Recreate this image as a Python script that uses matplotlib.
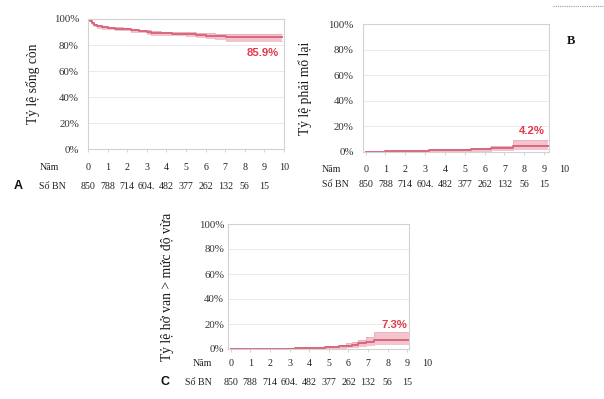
"""
Ba biểu đồ Kaplan-Meier: sống còn, mổ lại, hở van > mức độ vừa
"""

import matplotlib
matplotlib.use('Agg')
import matplotlib.pyplot as plt
import matplotlib.transforms as mtransforms

# A: tỷ lệ sống còn (%)
t_a = [0, 0.1, 0.2, 0.3, 0.45, 0.7, 1.0, 1.4, 1.8, 2.2, 2.6, 3.0, 3.2, 3.7, 4.3,
       5.0, 5.5, 6.0, 6.5, 7.05, 9.9]
s_a = [100, 98.5, 97, 95.5, 94.3, 93.6, 93.1, 92.6, 92.2, 91.5, 90.8, 90.0, 89.2,
       89.0, 88.8, 88.6, 87.9, 87.3, 86.8, 85.9, 85.9]
lo_a = [100, 98.1, 96.4, 94.7, 93.4, 92.7, 92.1, 91.6, 91.2, 90.4, 89.7, 88.8,
        87.9, 87.7, 87.4, 87.1, 86.3, 85.5, 84.8, 83.3, 83.3]
hi_a = [100, 98.9, 97.6, 96.3, 95.2, 94.5, 94.1, 93.6, 93.2, 92.6, 91.9, 91.2,
        90.5, 90.3, 90.2, 90.1, 89.5, 89.1, 88.8, 88.5, 88.5]

# B: tỷ lệ phải mổ lại (%)
t_b = [0, 1.0, 1.6, 2.0, 2.6, 3.2, 3.5, 4.2, 5.3, 6.3, 7.45, 9.2]
s_b = [0, 0.2, 0.4, 0.6, 0.8, 1.2, 1.4, 1.5, 1.9, 2.8, 4.2, 4.2]
lo_b = [0, 0, 0.1, 0.2, 0.3, 0.5, 0.6, 0.7, 0.9, 1.5, 1.8, 1.8]
hi_b = [0, 0.5, 0.8, 1.1, 1.4, 2.0, 2.3, 2.4, 2.9, 4.5, 9.5, 9.5]

# C: tỷ lệ hở van > mức độ vừa (%)
t_c = [0, 1.5, 2.0, 2.8, 3.3, 3.6, 4.2, 4.8, 5.1, 5.5, 5.9, 6.2, 6.5, 6.9, 7.3, 9.1]
s_c = [0, 0.1, 0.2, 0.4, 0.6, 0.9, 1.1, 1.3, 1.7, 2.2, 2.8, 3.5, 4.5, 5.6, 7.3, 7.3]
lo_c = [0, 0, 0, 0.1, 0.2, 0.3, 0.4, 0.5, 0.7, 1.0, 1.4, 1.8, 2.4, 3.0, 3.9, 3.9]
hi_c = [0, 0.3, 0.5, 0.8, 1.1, 1.6, 1.9, 2.2, 2.8, 3.6, 4.5, 5.6, 7.2, 9.8, 13.8, 13.8]

# bảng số bệnh nhân
years = list(range(11))
n_patients = ['850', '788', '714', '604.', '482', '377', '262', '132', '56', '15']

y_ticks = [0, 20, 40, 60, 80, 100]
y_ticklabels = ['0%', '20%', '40%', '60%', '80%', '100%']

SERIF = ['Liberation Serif', 'DejaVu Serif']
SANS = ['Liberation Sans', 'DejaVu Sans']
LINE = '#d9677d'
BAND = '#f3c4ce'
RED = '#e23a4d'
W, H = 604, 399


def fx(px):
    return px / W


def fy(py):
    return 1 - py / H


fig = plt.figure(figsize=(6.04, 3.99), dpi=100)
fig.patch.set_facecolor('white')


def rect_center_y(rect):
    return (1 - (rect[1] + rect[3] / 2)) * H


def make_panel(rect, t, s, lo, hi, xlim, ylabel, pad, final_label, label_xy,
               ylabel_x, row_y):
    ax = fig.add_axes(rect)
    ax.fill_between(t, lo, hi, step='post', color=BAND, lw=0)
    ax.step(t, lo, where='post', color='#eba9b7', lw=0.5)
    ax.step(t, hi, where='post', color='#eba9b7', lw=0.5)
    ax.step(t, s, where='post', color=LINE, lw=1.4)
    ax.set_xlim(*xlim)
    ax.set_ylim(0, 100)
    ax.set_yticks(y_ticks)
    ax.set_yticklabels(y_ticklabels, family=SERIF, fontsize=7.8, color='#333333')
    ax.set_xticks([y for y in years if y <= xlim[1]])
    ax.set_xticklabels([])
    ax.tick_params(axis='y', length=0, pad=pad)
    ax.tick_params(axis='x', length=2, width=0.6, color='#cccccc', direction='out')
    ax.grid(axis='y', color='#e6e6e6', lw=0.6)
    ax.set_axisbelow(True)
    for sp in ax.spines.values():
        sp.set_color('#d2d2d2')
        sp.set_linewidth(0.8)
    ax.text(label_xy[0], label_xy[1], final_label, ha='right', va='center',
            family=SANS, fontsize=8.2, fontweight='bold', color=RED)
    fig.text(fx(ylabel_x), fy(rect_center_y(rect)), ylabel, rotation=90,
             ha='center', va='center', family=SERIF, fontsize=9.8, color='#1a1a1a')

    # hàng năm và số bệnh nhân
    trans = mtransforms.blended_transform_factory(ax.transData, fig.transFigure)
    for yr in years:
        ax.text(yr, fy(row_y[0]), str(yr), transform=trans, ha='center',
                va='center', family=SERIF, fontsize=7.2, color='#222222',
                clip_on=False)
    for yr, n in zip(years, n_patients):
        ax.text(yr, fy(row_y[1]), n, transform=trans, ha='center', va='center',
                family=SERIF, fontsize=7.2, color='#222222', clip_on=False)
    return ax


rect_a = [fx(88), fy(149.3), fx(196), 130.3 / H]
rect_b = [fx(362.7), fy(151.7), fx(186.3), 127.4 / H]
rect_c = [fx(227.7), fy(349), fx(181.6), 125 / H]

make_panel(rect_a, t_a, s_a, lo_a, hi_a, (0, 10), 'Tỷ lệ sống còn', 6.5,
           '85.9%', (9.75, 74), 33, (168, 186.5))
make_panel(rect_b, t_b, s_b, lo_b, hi_b, (-0.15, 9.25), 'Tỷ lệ phải mổ lại', 6.5,
           '4.2%', (9.05, 16.5), 305, (169.3, 184.3))
make_panel(rect_c, t_c, s_c, lo_c, hi_c, (-0.15, 9.1), 'Tỷ lệ hở van > mức độ vừa', 2.5,
           '7.3%', (9.0, 19.2), 168, (364, 382.7))

# nhãn hàng
txt = dict(family=SERIF, fontsize=7.2, color='#222222', va='center', ha='left')
fig.text(fx(40), fy(168), 'Năm', **txt)
fig.text(fx(39), fy(186.5), 'Số BN', **txt)
fig.text(fx(322), fy(169.3), 'Năm', **txt)
fig.text(fx(322), fy(184.3), 'Số BN', **txt)
fig.text(fx(193), fy(364), 'Năm', **txt)
fig.text(fx(185), fy(382.7), 'Số BN', **txt)

# ký hiệu panel
fig.text(fx(18.5), fy(186), 'A', family=SANS, fontsize=9, fontweight='bold',
         ha='center', va='center', color='#111111')
fig.text(fx(571), fy(41), 'B', family=SERIF, fontsize=9, fontweight='bold',
         ha='center', va='center', color='#111111')
fig.text(fx(165), fy(382), 'C', family=SANS, fontsize=9, fontweight='bold',
         ha='center', va='center', color='#111111')

# đường chấm góc trên phải
fig.add_artist(plt.Line2D([fx(553), fx(604)], [fy(6), fy(6)], color='#9a9a9a',
                          lw=0.8, linestyle=(0, (1, 1))))

fig.savefig('out.png', dpi=100)
plt.close(fig)
